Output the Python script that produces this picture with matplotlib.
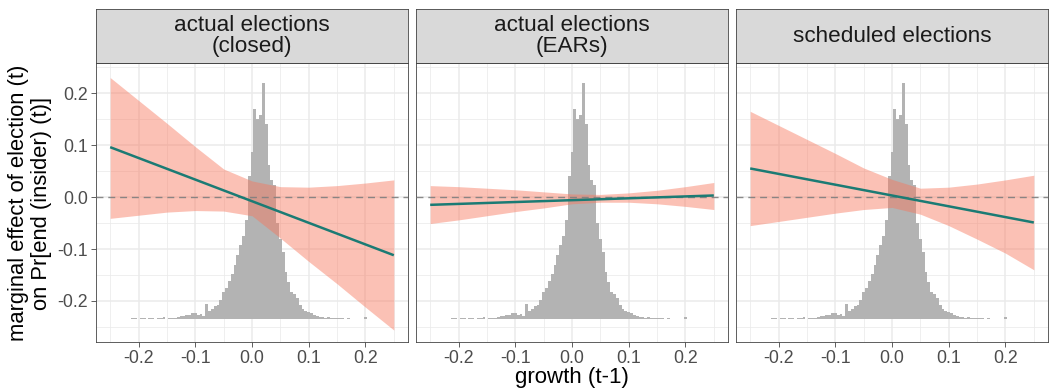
import numpy as np
import matplotlib
matplotlib.use("Agg")
import matplotlib.pyplot as plt
from matplotlib.ticker import MultipleLocator

plt.rcParams['font.family'] = ['Liberation Sans', 'DejaVu Sans']
plt.rcParams['axes.unicode_minus'] = False

# facet titles
panels = ["actual elections\n(closed)", "actual elections\n(EARs)", "scheduled elections"]

# predicted marginal effect (line) and its band, over growth (t-1)
fit_x = [-0.25, 0.25]
fit_y = [
    [0.096, -0.112],
    [-0.015, 0.003],
    [0.055, -0.049],
]
band_x = [-0.25, -0.2, -0.15, -0.1, -0.05, 0.0, 0.05, 0.1, 0.15, 0.2, 0.25]
band_hi = [
    [0.230, 0.186, 0.142, 0.097, 0.054, 0.031, 0.020, 0.019, 0.022, 0.027, 0.033],
    [0.022, 0.020, 0.017, 0.014, 0.010, 0.006, 0.005, 0.008, 0.013, 0.020, 0.028],
    [0.165, 0.138, 0.111, 0.084, 0.056, 0.034, 0.017, 0.019, 0.025, 0.033, 0.042],
]
band_lo = [
    [-0.041, -0.035, -0.029, -0.026, -0.027, -0.036, -0.079, -0.124, -0.167, -0.212, -0.256],
    [-0.051, -0.044, -0.036, -0.028, -0.021, -0.013, -0.010, -0.010, -0.013, -0.018, -0.024],
    [-0.055, -0.047, -0.039, -0.031, -0.024, -0.020, -0.033, -0.055, -0.081, -0.108, -0.140],
]

# distribution of growth (t-1), rescaled onto the effect axis
hist_base = -0.235
hist_w = 0.005
hist_centers = np.round(np.arange(-0.21, 0.2151, hist_w), 3)
hist_h = [
    0.002, 0.002, 0.0, 0.002, 0.002, 0.0, 0.002, 0.002, 0.001, 0.002,   # -0.210 .. -0.165
    0.002, 0.005, 0.001, 0.003, 0.003, 0.002, 0.005, 0.006, 0.006, 0.008,  # -0.160 .. -0.115
    0.008, 0.012, 0.011, 0.008, 0.009, 0.006, 0.030, 0.016, 0.020, 0.025,  # -0.110 .. -0.065
    0.028, 0.037, 0.052, 0.059, 0.073, 0.087, 0.105, 0.123, 0.142, 0.160,  # -0.060 .. -0.015
    0.190, 0.275, 0.322, 0.405, 0.385, 0.392, 0.455, 0.376, 0.296, 0.267,  # -0.010 .. 0.035
    0.258, 0.185, 0.155, 0.129, 0.091, 0.072, 0.053, 0.049, 0.040, 0.027,  # 0.040 .. 0.085
    0.019, 0.015, 0.013, 0.011, 0.008, 0.006, 0.005, 0.004, 0.003, 0.004,  # 0.090 .. 0.135
    0.002, 0.003, 0.003, 0.002, 0.003, 0.001, 0.002, 0.001, 0.001, 0.001,  # 0.140 .. 0.185
    0.001, 0.001, 0.004, 0.001, 0.0, 0.001,                                # 0.190 .. 0.215
]

W, H = 1050, 391
fig = plt.figure(figsize=(W / 100, H / 100), dpi=100)

grid_col = '#EBEBEB'
frame_col = '#444444'
left0, pw, gap = 96, 312, 8
ptop, pbot = 63, 342
strip_top = 9

for i, title in enumerate(panels):
    x0 = left0 + i * (pw + gap)
    ax = fig.add_axes([x0 / W, 1 - pbot / H, pw / W, (pbot - ptop) / H])
    ax.set_xlim(-0.275, 0.275)
    ax.set_ylim(-0.279, 0.258)

    ax.xaxis.set_major_locator(MultipleLocator(0.1))
    ax.xaxis.set_minor_locator(MultipleLocator(0.05))
    ax.yaxis.set_major_locator(MultipleLocator(0.1))
    ax.yaxis.set_minor_locator(MultipleLocator(0.05))
    ax.grid(which='major', color=grid_col, lw=1.1, zorder=0)
    ax.grid(which='minor', color=grid_col, lw=0.55, zorder=0)
    ax.set_axisbelow(True)

    ax.bar(hist_centers, hist_h, width=hist_w, bottom=hist_base,
           color='#B3B3B3', linewidth=0, zorder=2)
    ax.fill_between(band_x, band_lo[i], band_hi[i], color='#F8765C',
                    alpha=0.45, linewidth=0, zorder=3)
    ax.axhline(0, color='#7F7F7F', lw=1.0, dashes=(5, 3.5), alpha=0.9, zorder=4)
    ax.plot(fit_x, fit_y[i], color='#1B7B74', lw=1.8, zorder=5,
            solid_capstyle='butt')

    ax.set_xticks([-0.2, -0.1, 0.0, 0.1, 0.2])
    ax.set_xticklabels(['-0.2', '-0.1', '0.0', '0.1', '0.2'])
    ax.tick_params(which='major', length=3.5, width=0.6, color=frame_col,
                   labelsize=12.8, labelcolor='#4D4D4D', pad=2)
    ax.tick_params(which='minor', length=0)
    if i == 0:
        ax.set_yticks([-0.2, -0.1, 0.0, 0.1, 0.2])
        ax.set_yticklabels(['-0.2', '-0.1', '0.0', '0.1', '0.2'])
    else:
        ax.tick_params(axis='y', which='both', left=False, labelleft=False)

    for s in ax.spines.values():
        s.set_color(frame_col)
        s.set_linewidth(0.6)

    # facet strip
    sx = fig.add_axes([x0 / W, 1 - ptop / H, pw / W, (ptop - strip_top) / H])
    sx.set_facecolor('#D9D9D9')
    sx.set_xticks([])
    sx.set_yticks([])
    for s in sx.spines.values():
        s.set_color(frame_col)
        s.set_linewidth(0.6)
    sx.text(0.5, 0.5, title, ha='center', va='center', fontsize=16.2,
            color='#1A1A1A', linespacing=1.02, transform=sx.transAxes)

fig.text(30 / W, 1 - 203 / H, "marginal effect of election (t)\non Pr[end (insider) (t)]",
         rotation=90, ha='center', va='center', fontsize=15.8, color='black',
         linespacing=1.1)
fig.text(572 / W, 1 - 378 / H, "growth (t-1)", ha='center', va='center',
         fontsize=16, color='black')

fig.savefig("out.png", dpi=100, facecolor='white')
